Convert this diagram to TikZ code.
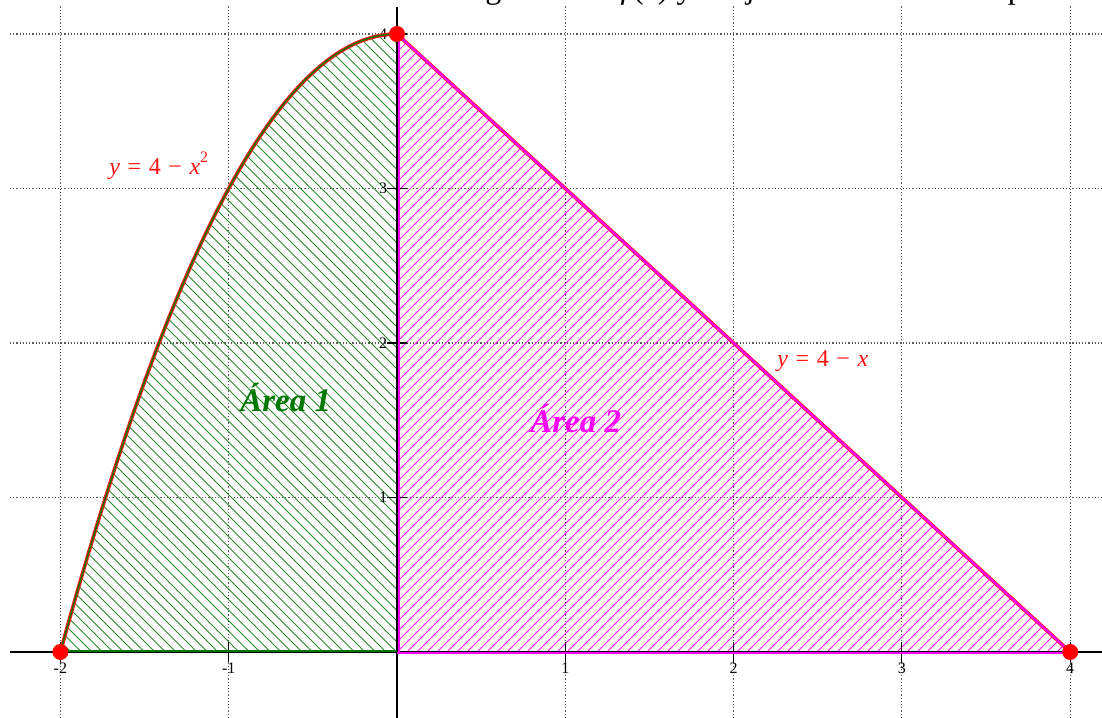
\documentclass[tikz,border=0pt]{standalone}
\usepackage{fontspec}
\setmainfont{Liberation Serif}
\definecolor{hgreen}{RGB}{40,140,40}
\definecolor{dgreen}{RGB}{0,120,0}
\definecolor{mag}{RGB}{255,0,255}
\definecolor{lred}{RGB}{255,20,20}
\newcommand{\opgap}{\hspace{3.8pt}}
\begin{document}
\begin{tikzpicture}[x=84.15pt,y=77.25pt,
  gridline/.style={densely dotted, black!65, line width=0.6pt},
  axisline/.style={black, line width=1.2pt},
  tickline/.style={black, line width=0.6pt},
  ticklab/.style={font=\fontsize{8}{8}\selectfont, inner sep=0pt},
  hatchA/.style={hgreen, line width=0.45pt},
  hatchB/.style={mag, line width=0.45pt},
  dot/.style={circle, fill=red, inner sep=0pt, minimum size=8pt},
  eqlab/.style={lred, font=\fontsize{12}{12}\selectfont, inner sep=0pt, anchor=base west},
  arealab/.style={font=\fontsize{16.5}{16.5}\selectfont\bfseries\itshape, inner sep=0pt, anchor=base west}
]
\useasboundingbox (-2.3589,-0.4272) rectangle (4.1890,4.2201);
\clip (-2.3589,-0.4272) rectangle (4.1890,4.2201);
\coordinate (A) at (-2,0);
\coordinate (T) at (0,4);
\coordinate (B) at (4,0);
\coordinate (O) at (0,0);

% top (cropped) text
\node[anchor=base west, inner sep=0pt, font=\fontsize{16}{16}\selectfont] (title) at (0.3387,4.2265) {la gráfica de \textit{f}(\textit{x}) y el eje \textit{x}. Calcule el área para cada región};

% grid
\foreach \k in {-2,-1,1,2,3,4}
  \draw[gridline] (\k,-0.4272) -- (\k,4.181);
\foreach \k in {1,2,3,4}
  \draw[gridline] (-2.2995,\k) -- (4.189,\k);

% hatching area 1
\begin{scope}
  \clip (A) -- plot[domain=-2:0, samples=80] (\x,{4-\x*\x}) -- (O) -- cycle;
  \foreach \i in {0,...,96}
    \draw[hatchA] (A) ++(\i*5.25pt-330pt,330pt) -- ++(660pt,-660pt);
\end{scope}
% hatching area 2
\begin{scope}
  \clip (O) -- (T) -- (B) -- cycle;
  \foreach \i in {-66,...,70}
    \draw[hatchB] (O) ++(\i*5pt-330pt,-330pt) -- ++(660pt,660pt);
\end{scope}

% axes
\draw[axisline] (-2.2995,0) -- (4.189,0);
\draw[axisline] (0,-0.4272) -- (0,4.175);
\foreach \k in {-2,-1,1,2,3,4}
  \draw[tickline] (\k,0) ++(0,-5pt) -- ++(0,10pt);
\foreach \k in {1,2,3,4}
  \draw[tickline] (0,\k) ++(-5pt,0) -- ++(10pt,0);

% tick labels
\foreach \k/\t in {-2/-2,-1/-1,1/1,2/2,3/3,4/4}
  \node[ticklab] (xl\k) at (\k,-0.1036) {\t};
\foreach \k in {1,2,3,4}
  \node[ticklab] (yl\k) at (-0.083,\k) {\k};

% boundaries
\draw[dgreen, line width=0.8pt] ([yshift=0.5pt]A) -- ([yshift=0.5pt]O);
\draw[mag, line width=0.6pt] ([xshift=1pt]O) -- ([xshift=1pt]T);
\draw[mag, line width=0.8pt] ([yshift=-0.6pt]O) -- ([yshift=-0.6pt]B);
\draw[lred, line width=1.8pt] plot[domain=-2:0, samples=80] (\x,{4-\x*\x});
\draw[dgreen, line width=0.7pt] plot[domain=-2:0, samples=80] (\x,{4-\x*\x});
\draw[lred, line width=1.8pt] (T) -- (B);
\draw[mag, line width=1.1pt] (T) -- (B);

% points
\node[dot] (pA) at (A) {};
\node[dot] (pT) at (T) {};
\node[dot] (pB) at (B) {};

% labels
\node[eqlab] (eq1) at (-1.7112,3.0874) {\textit{y}\opgap=\opgap4\opgap−\opgap\textit{x}\raisebox{6pt}{\fontsize{8}{8}\selectfont 2}};
\node[eqlab] (eq2) at (2.2579,1.8447) {\textit{y}\opgap=\opgap4\opgap−\opgap\textit{x}};
\node[arealab, dgreen] (a1) at (-0.9329,1.5534) {Área 1};
\node[arealab, mag] (a2) at (0.790,1.4175) {Área 2};
\end{tikzpicture}
\end{document}
